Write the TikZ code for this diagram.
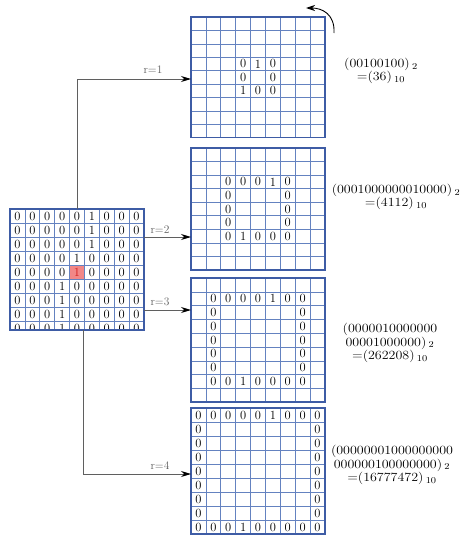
\documentclass[tikz,border=0pt]{standalone}
\usepackage{graphicx}
\usetikzlibrary{arrows.meta}
\definecolor{gridblue}{RGB}{62,92,165}
\definecolor{gridinner}{RGB}{100,130,192}
\definecolor{cellred}{RGB}{242,135,135}
\definecolor{celledge}{RGB}{205,85,85}
\definecolor{txtred}{RGB}{210,30,30}
\definecolor{conngray}{RGB}{95,95,95}
\newcommand\sx[1]{\scalebox{1.12}[1]{#1}}
\newcommand\mkgrid[5]{%
  \foreach \i in {1,...,8} \draw[innerline] ({#2+\i*134/9},{-#3}) -- ({#2+\i*134/9},{-#3-#5});
  \foreach \j in {1,...,8} \draw[innerline] ({#2},{-#3-\j*#4}) -- ({#2+134},{-#3-\j*#4});
  \node[gridbox, minimum height={#5pt}, anchor=north west] (#1) at (#2,-#3) {};
}
\newcommand\mkcells[5]{%
  \foreach \c/\r/\v in {#5} \node[cell] (#1-\c-\r) at ({#2+(\c-0.5)*134/9},{-#3-(\r-0.5)*#4}) {\v};
}
\tikzset{
  gridbox/.style={draw=gridblue, line width=1.1pt, minimum width=134pt, inner sep=0pt, outer sep=0pt},
  innerline/.style={draw=gridinner, line width=0.6pt},
  cell/.style={font=\fontsize{12.5}{13}\selectfont, inner sep=0pt},
  conn/.style={draw=conngray, line width=0.9pt, -{Stealth[length=10pt,width=6pt,black]}},
  rlabel/.style={font=\fontsize{11.5}{12}\selectfont, text=conngray, inner sep=0pt},
  vallabel/.style={font=\fontsize{12.5}{11.5}\selectfont, align=center, inner sep=0pt},
}
\begin{document}
\begin{tikzpicture}[x=1pt,y=1pt]
\useasboundingbox (0,0) rectangle (461,-538);
% left grid
\fill[cellred, draw=celledge, line width=0.6pt] ({10+4*134/9},-265) rectangle ({10+5*134/9},-279);
\mkgrid{L}{10}{209}{14}{121}
\begin{scope}
\clip (10,-209) rectangle (144,-330);
\foreach \row [count=\r] in {{0,0,0,0,0,1,0,0,0},{0,0,0,0,0,1,0,0,0},{0,0,0,0,0,1,0,0,0},{0,0,0,0,1,0,0,0,0},{0,0,0,0,\textcolor{txtred}{1},0,0,0,0},{0,0,0,1,0,0,0,0,0},{0,0,0,1,0,0,0,0,0},{0,0,0,1,0,0,0,0,0},{0,0,0,1,0,0,0,0,0}}{
  \foreach \v [count=\c] in \row {
    \node[cell] (L-\c-\r) at ({10+(\c-0.5)*134/9},{-209-(\r-0.5)*14}) {\v};
  }
}
\end{scope}
\node[gridbox, minimum height=121pt, anchor=north west] (Lb) at (10,-209) {};
% right grids
\mkgrid{G1}{191}{17}{13.4}{120.6}
\mkcells{G1}{191}{17}{13.4}{4/4/0,5/4/1,6/4/0,4/5/0,6/5/0,4/6/1,5/6/0,6/6/0}
\mkgrid{G2}{191}{148}{13.55}{122}
\mkcells{G2}{191}{148}{13.55}{3/3/0,4/3/0,5/3/0,6/3/1,7/3/0,3/4/0,7/4/0,3/5/0,7/5/0,3/6/0,7/6/0,3/7/0,4/7/1,5/7/0,6/7/0,7/7/0}
\mkgrid{G3}{191}{278}{13.8}{124}
\mkcells{G3}{191}{278}{13.8}{2/2/0,3/2/0,4/2/0,5/2/0,6/2/1,7/2/0,8/2/0,2/3/0,8/3/0,2/4/0,8/4/0,2/5/0,8/5/0,2/6/0,8/6/0,2/7/0,8/7/0,2/8/0,3/8/0,4/8/1,5/8/0,6/8/0,7/8/0,8/8/0}
\mkgrid{G4}{191}{408}{14}{126}
\mkcells{G4}{191}{408}{14}{1/1/0,2/1/0,3/1/0,4/1/0,5/1/0,6/1/1,7/1/0,8/1/0,9/1/0,1/2/0,9/2/0,1/3/0,9/3/0,1/4/0,9/4/0,1/5/0,9/5/0,1/6/0,9/6/0,1/7/0,9/7/0,1/8/0,9/8/0,1/9/0,2/9/0,3/9/0,4/9/1,5/9/0,6/9/0,7/9/0,8/9/0,9/9/0}
% connectors
\coordinate (c1) at (77,-79);
\coordinate (c2) at (0,-237);
\coordinate (c3) at (0,-310);
\coordinate (c4) at (83,-474);
\draw[conn] (Lb.north -| c1) -- (c1) -- (G1.west |- c1);
\draw[conn] (Lb.east |- c2) -- (G2.west |- c2);
\draw[conn] (Lb.east |- c3) -- (G3.west |- c3);
\draw[conn] (Lb.south -| c4) -- (c4) -- (G4.west |- c4);
\node[rlabel] (r1) at (153,-70) {r=1};
\node[rlabel] (r2) at (160,-230) {r=2};
\node[rlabel] (r3) at (160,-302) {r=3};
\node[rlabel] (r4) at (160,-466) {r=4};
% rotation arrow
\coordinate (ca) at (334,-33);
\coordinate (cb) at (306,-8);
\draw[line width=0.9pt, -{Stealth[length=9pt,width=6pt]}] (ca) .. controls (335,-14) and (322,-8) .. (cb);
% value labels
\node[vallabel] (v1) at (381,-71) {\sx{(00100100)\,$_2$}\\\sx{=(36)\,$_{10}$}};
\node[vallabel] (v2) at (396,-197) {\sx{(0001000000010000)\,$_2$}\\\sx{=(4112)\,$_{10}$}};
\node[vallabel] (v3) at (390,-343) {\sx{(0000010000000}\\\sx{00001000000)\,$_2$}\\\sx{=(262208)\,$_{10}$}};
\node[vallabel] (v4) at (392,-465) {\sx{(00000001000000000}\\\sx{000000100000000)\,$_2$}\\\sx{=(16777472)\,$_{10}$}};
\end{tikzpicture}
\end{document}
